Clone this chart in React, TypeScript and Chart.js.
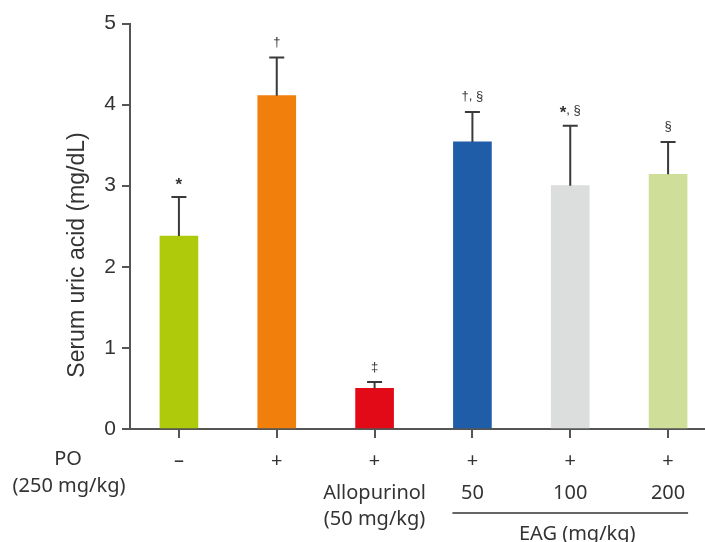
import React, { useEffect, useRef } from "react";
import { Chart, registerables } from "chart.js";

Chart.register(...registerables);

const categories = ["Control", "PO", "Allopurinol", "EAG 50", "EAG 100", "EAG 200"];
const meanValues = [2.38, 4.11, 0.5, 3.54, 3.0, 3.14];
const sdValues = [0.48, 0.47, 0.08, 0.37, 0.74, 0.4];
const barColors = ["#AFCA0B", "#F07F0B", "#E30A17", "#1F5DA8", "#DCDDDD", "#CFDF9A"];
const sigMarks = ["*", "\u2020", "\u2021", "\u2020, \u00A7", "*, \u00A7", "\u00A7"];
const poRow = ["\u2013", "+", "+", "+", "+", "+"];
const doseRow = ["Allopurinol", "50", "100", "200"];
const doseRowIdx = [2, 3, 4, 5];
const allopurinolDose = "(50 mg/kg)";
const poTitle = ["PO", "(250 mg/kg)"];
const eagTitle = "EAG (mg/kg)";
const yTitle = "Serum uric acid (mg/dL)";
const yTicks = [0, 1, 2, 3, 4, 5];

const LABEL_FONT = "20px 'Noto Sans', sans-serif";

function drawMark(ctx: any, text: string, cx: number, cy: number) {
  const parts = text.split(/(\*)/).filter((p) => p.length > 0);
  const fonts = parts.map((p) =>
    p === "*" ? "bold 17px 'Liberation Sans', Arial, sans-serif" : "13px 'Liberation Sans', Arial, sans-serif"
  );
  let total = 0;
  const widths = parts.map((p, i) => {
    ctx.font = fonts[i];
    const w = ctx.measureText(p).width;
    total += w;
    return w;
  });
  let x = cx - total / 2;
  ctx.textAlign = "left";
  parts.forEach((p, i) => {
    ctx.font = fonts[i];
    ctx.textBaseline = "middle";
    ctx.fillText(p, x, p === "*" ? cy + 3 : cy);
    x += widths[i];
  });
}

const overlay = {
  id: "overlay",
  afterDatasetsDraw(chart: any) {
    const ctx = chart.ctx;
    const xs = chart.scales.x;
    const ys = chart.scales.y;
    ctx.save();
    ctx.strokeStyle = "#3a3a3a";
    ctx.lineWidth = 2;
    for (let i = 0; i < meanValues.length; i++) {
      const cx = xs.getPixelForValue(i);
      const yTop = ys.getPixelForValue(meanValues[i]);
      const yErr = ys.getPixelForValue(meanValues[i] + sdValues[i]);
      ctx.beginPath();
      ctx.moveTo(cx, yTop);
      ctx.lineTo(cx, yErr);
      ctx.moveTo(cx - 7.5, yErr);
      ctx.lineTo(cx + 7.5, yErr);
      ctx.stroke();
      ctx.fillStyle = "#333";
      drawMark(ctx, sigMarks[i], cx, yErr - 15);
    }
    ctx.restore();
  },
  afterDraw(chart: any) {
    const ctx = chart.ctx;
    const xs = chart.scales.x;
    ctx.save();
    ctx.fillStyle = "#333";
    ctx.textAlign = "center";
    ctx.textBaseline = "middle";
    ctx.save();
    ctx.font = "23px 'Liberation Sans', Arial, sans-serif";
    ctx.translate(78, 255);
    ctx.rotate(-Math.PI / 2);
    ctx.fillText(yTitle, 0, 0);
    ctx.restore();

    ctx.font = LABEL_FONT;
    ctx.fillText(poTitle[0], 68, 459);
    ctx.fillText(poTitle[1], 69, 486);
    for (let i = 0; i < poRow.length; i++) {
      ctx.fillText(poRow[i], xs.getPixelForValue(i), 461);
    }
    for (let k = 0; k < doseRow.length; k++) {
      ctx.fillText(doseRow[k], xs.getPixelForValue(doseRowIdx[k]), 493);
    }
    ctx.fillText(allopurinolDose, xs.getPixelForValue(2), 519);
    const x1 = xs.getPixelForValue(3) - 20;
    const x2 = xs.getPixelForValue(5) + 20;
    ctx.strokeStyle = "#333";
    ctx.lineWidth = 1.5;
    ctx.beginPath();
    ctx.moveTo(x1, 513);
    ctx.lineTo(x2, 513);
    ctx.stroke();
    ctx.fillText(eagTitle, (x1 + x2) / 2 + 7, 534);
    ctx.restore();
  },
};

export default function App() {
  const ref = useRef<HTMLCanvasElement | null>(null);
  useEffect(() => {
    if (!ref.current) return;
    const chart = new Chart(ref.current, {
      type: "bar",
      data: {
        labels: categories,
        datasets: [
          {
            data: meanValues,
            backgroundColor: barColors,
            borderWidth: 0,
            barThickness: 38,
          },
        ],
      },
      options: {
        responsive: false,
        animation: false,
        devicePixelRatio: 1,
        layout: { padding: { top: 23.5, right: 0, bottom: 0, left: 0 } },
        plugins: { legend: { display: false }, tooltip: { enabled: false } },
        scales: {
          x: {
            offset: true,
            grid: {
              display: true,
              offset: false,
              drawOnChartArea: false,
              drawTicks: true,
              tickLength: 9,
              color: "#555",
              lineWidth: 2,
            },
            border: { display: true, color: "#555", width: 2 },
            ticks: { display: false },
            afterFit: (s: any) => {
              s.height = 113;
            },
          },
          y: {
            min: 0,
            max: 5,
            afterBuildTicks: (s: any) => {
              s.ticks = yTicks.map((v) => ({ value: v }));
            },
            grid: {
              display: true,
              drawOnChartArea: false,
              drawTicks: true,
              tickLength: 8,
              color: "#555",
              lineWidth: 2,
            },
            border: { display: true, color: "#555", width: 2 },
            ticks: {
              color: "#333",
              padding: 6,
              font: { family: "'Liberation Sans', Arial, sans-serif", size: 21 },
            },
            afterFit: (s: any) => {
              s.width = 130;
            },
          },
        },
      },
      plugins: [overlay],
    });
    return () => chart.destroy();
  }, []);
  return (
    <div
      style={{
        position: "absolute",
        left: 0,
        top: 0,
        width: 705,
        height: 542,
        overflow: "hidden",
        background: "#fff",
      }}
    >
      <canvas ref={ref} width={717} height={542} style={{ width: 717, height: 542, display: "block" }} />
    </div>
  );
}
